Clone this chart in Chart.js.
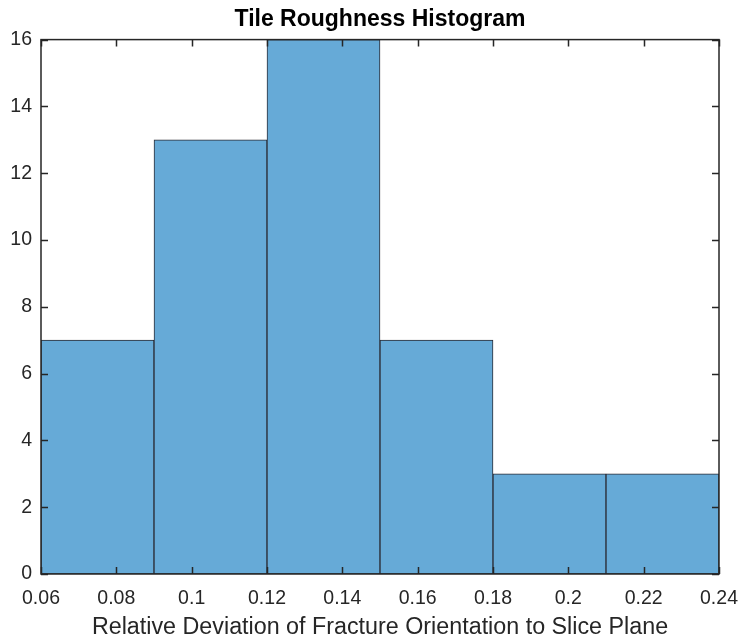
<!DOCTYPE html>
<html>
<head>
<meta charset="utf-8">
<script src="https://cdn.jsdelivr.net/npm/chart.js@4"></script>
<style>
  body { margin: 0; background: #fff; }
  #wrap { width: 739px; height: 640px; }
</style>
</head>
<body>
<div id="wrap"><canvas id="histChart"></canvas></div>
<script>
// histogram data
const binEdges = [0.06, 0.09, 0.12, 0.15, 0.18, 0.21, 0.24]
const binCounts = [7, 13, 16, 7, 3, 3]
const xTicks = [0.06, 0.08, 0.1, 0.12, 0.14, 0.16, 0.18, 0.2, 0.22, 0.24]
const yTicks = [0, 2, 4, 6, 8, 10, 12, 14, 16]

const axisColor = '#262626'
const fontFam = '"Liberation Sans", Arial, Helvetica, sans-serif'

const points = binCounts.map(function(c, i){
    return { x: (binEdges[i] + binEdges[i+1]) / 2, y: c }
})

// box around the axes + inward ticks like matlab
const boxTicks = {
    id: 'boxTicks',
    afterDatasetsDraw(chart) {
        const ctx = chart.ctx
        const a = chart.chartArea
        const xs = chart.scales.x, ys = chart.scales.y
        const len = 7
        ctx.save()
        ctx.strokeStyle = axisColor
        ctx.lineWidth = 1.5
        ctx.beginPath()
        xTicks.forEach(function(v){
            const px = Math.round(xs.getPixelForValue(v)) + 0.5
            ctx.moveTo(px, a.bottom); ctx.lineTo(px, a.bottom - len)
            ctx.moveTo(px, a.top); ctx.lineTo(px, a.top + len)
        })
        yTicks.forEach(function(v){
            const py = Math.round(ys.getPixelForValue(v)) + 0.5
            ctx.moveTo(a.left, py); ctx.lineTo(a.left + len, py)
            ctx.moveTo(a.right, py); ctx.lineTo(a.right - len, py)
        })
        ctx.stroke()
        ctx.strokeRect(a.left, a.top, a.right - a.left, a.bottom - a.top)
        ctx.restore()
    }
}

const ctx = document.getElementById('histChart').getContext('2d')
const myChart = new Chart(ctx, {
    type: 'bar',
    data: {
        datasets: [{
            data: points,
            backgroundColor: 'rgb(102,170,215)',
            borderColor: 'rgba(20,20,30,0.9)',
            borderWidth: 1,
            borderSkipped: false,
            barThickness: 'flex',
            barPercentage: 1,
            categoryPercentage: 1
        }]
    },
    options: {
        responsive: true,
        maintainAspectRatio: false,
        animation: false,
        layout: { padding: { left: 0, right: 20, top: 0, bottom: 0 } },
        plugins: {
            legend: { display: false },
            tooltip: { enabled: false },
            title: {
                display: true,
                fullSize: false,
                text: 'Tile Roughness Histogram',
                color: '#000',
                font: { family: fontFam, size: 23, weight: 'bold' },
                padding: { top: 6, bottom: 6 }
            }
        },
        scales: {
            x: {
                type: 'linear',
                offset: false,
                min: 0.06,
                max: 0.24,
                grid: { display: false, drawTicks: false },
                border: { display: false },
                afterBuildTicks: function(scale){
                    scale.ticks = xTicks.map(function(v){ return { value: v } })
                },
                afterFit: function(scale){
                    scale.height = 66
                    scale.paddingLeft = 0
                    scale.paddingRight = 0
                },
                ticks: {
                    color: axisColor,
                    padding: 13,
                    maxRotation: 0,
                    autoSkip: false,
                    font: { family: fontFam, size: 19.5 },
                    callback: function(v){ return String(parseFloat(v.toFixed(2))) }
                },
                title: {
                    display: true,
                    text: 'Relative Deviation of Fracture Orientation to Slice Plane',
                    color: axisColor,
                    font: { family: fontFam, size: 23.3, lineHeight: 1.05 },
                    padding: { top: 0, bottom: 0 }
                }
            },
            y: {
                min: 0,
                max: 16,
                grid: { display: false, drawTicks: false },
                border: { display: false },
                afterBuildTicks: function(scale){
                    scale.ticks = yTicks.map(function(v){ return { value: v } })
                },
                afterFit: function(scale){ scale.width = 41 },
                ticks: {
                    color: axisColor,
                    padding: 9,
                    font: { family: fontFam, size: 19.5 }
                }
            }
        }
    },
    plugins: [boxTicks]
})
</script>
</body>
</html>
